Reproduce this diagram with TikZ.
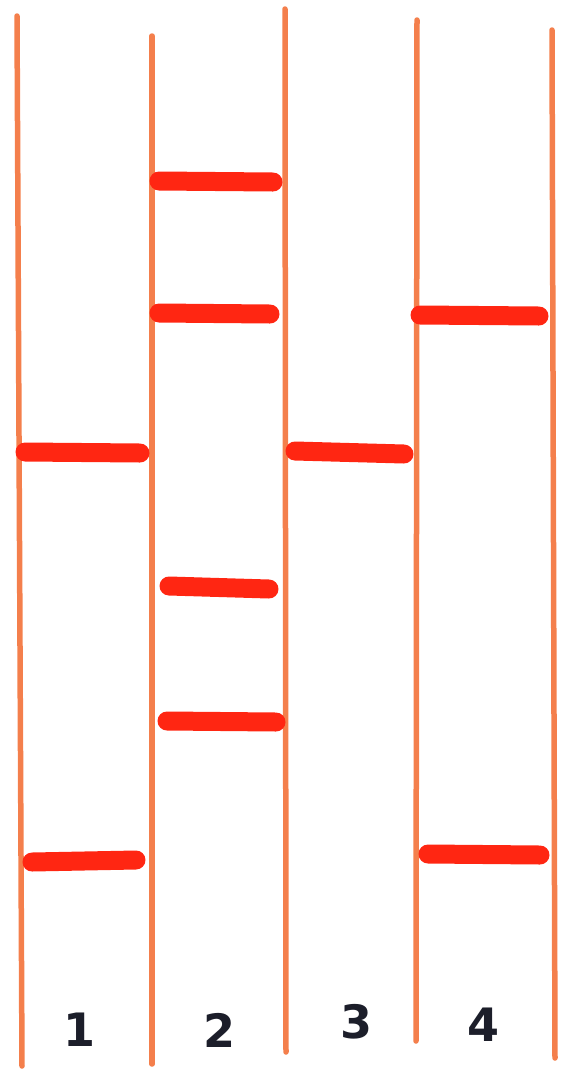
\documentclass[tikz,border=0pt]{standalone}
\usepackage{fontspec}
\setmainfont{DejaVu Sans}
\definecolor{railc}{HTML}{F47F4C}
\definecolor{rungc}{HTML}{FF2612}
\definecolor{inkc}{HTML}{1C1E2A}
\tikzset{
  rail/.style={draw=railc, line width=5.5pt, line cap=round},
  rung/.style={draw=rungc, line width=19pt, line cap=round},
  digit/.style={text=inkc, font=\bfseries\fontsize{46}{46}\selectfont, inner sep=0pt}
}
\begin{document}
\begin{tikzpicture}[x=1pt,y=-1pt]
\useasboundingbox (0,0) rectangle (563,1072);
% rail end points
\coordinate (A1) at (17,16);  \coordinate (A2) at (22,1066);
\coordinate (B1) at (152,36); \coordinate (B2) at (152,1064);
\coordinate (C1) at (285,9);  \coordinate (C2) at (286,1052);
\coordinate (D1) at (417,20); \coordinate (D2) at (416,1041);
\coordinate (E1) at (552,30); \coordinate (E2) at (555,1058);
\draw[rail] (A1) -- (A2);
\draw[rail] (B1) -- (B2);
\draw[rail] (C1) -- (C2);
\draw[rail] (D1) -- (D2);
\draw[rail] (E1) -- (E2);
% rungs
\coordinate (r1a) at (159,181); \coordinate (r1b) at (273,182);
\coordinate (r2a) at (159,313); \coordinate (r2b) at (270,314);
\coordinate (r3a) at (25,452);  \coordinate (r3b) at (140,453);
\coordinate (r4a) at (295,451); \coordinate (r4b) at (404,454);
\coordinate (r5a) at (420,315); \coordinate (r5b) at (539,316);
\coordinate (r6a) at (169,586); \coordinate (r6b) at (269,589);
\coordinate (r7a) at (167,721); \coordinate (r7b) at (276,722);
\coordinate (r8a) at (32,862);  \coordinate (r8b) at (136,860);
\coordinate (r9a) at (428,854); \coordinate (r9b) at (540,855);
\foreach \r in {1,...,9} \draw[rung] (r\r a) -- (r\r b);
% labels
\node[digit] (n1) at (80,1030) {1};
\node[digit] (n2) at (220,1030) {2};
\node[digit] (n3) at (357,1022) {3};
\node[digit] (n4) at (483,1025) {4};
\end{tikzpicture}
\end{document}
